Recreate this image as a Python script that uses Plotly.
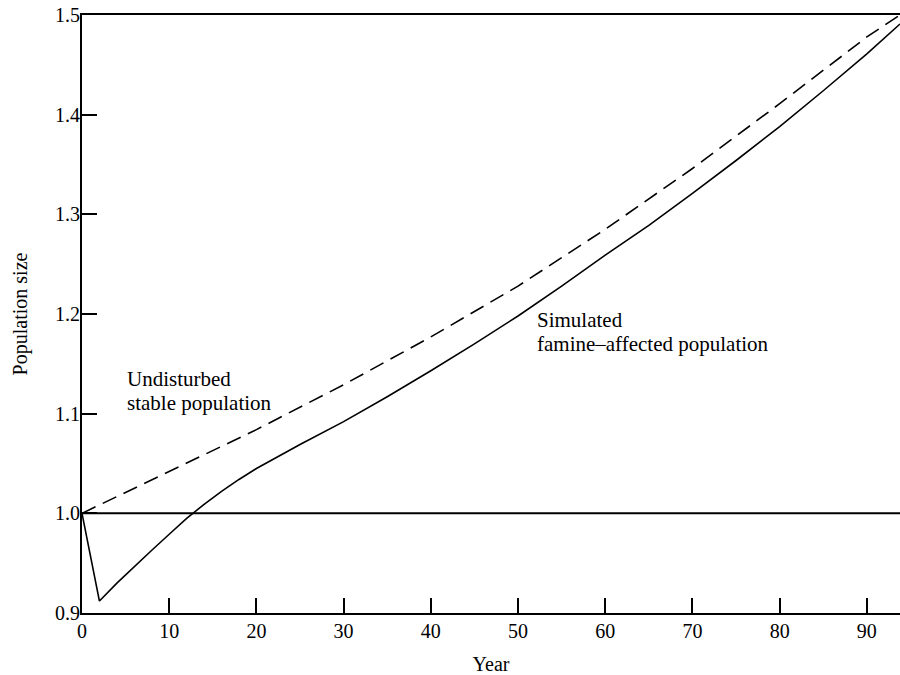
import plotly.graph_objects as go

# Simulated famine-affected population (solid)
famine_years = [0, 2, 4, 6, 8, 10, 12, 14, 16, 18, 20, 25, 30, 35, 40, 45, 50,
                55, 60, 65, 70, 75, 80, 85, 90, 93.8]
famine_pop = [1.000, 0.912, 0.930, 0.947, 0.963, 0.979, 0.995, 1.009, 1.022,
              1.034, 1.045, 1.069, 1.092, 1.117, 1.143, 1.170, 1.198, 1.228,
              1.259, 1.289, 1.321, 1.354, 1.388, 1.424, 1.461, 1.491]

# Undisturbed stable population (dashed)
stable_years = [0, 10, 20, 30, 40, 50, 60, 70, 80, 90, 93.8]
stable_pop = [1.000, 1.042, 1.084, 1.129, 1.177, 1.228, 1.285, 1.346, 1.411,
              1.478, 1.500]

baseline = 1.0
x_ticks = [0, 10, 20, 30, 40, 50, 60, 70, 80, 90]
y_ticks = [0.9, 1.0, 1.1, 1.2, 1.3, 1.4, 1.5]
y_tick_text = ["0.9", "1.0", "1.1", "1.2", "1.3", "1.4", "1.5"]

FONT = "Liberation Serif, Times New Roman, serif"

fig = go.Figure()
fig.add_trace(go.Scatter(x=stable_years, y=stable_pop, mode="lines",
                         line=dict(color="black", width=1.6, dash="15px,8px"),
                         name="Undisturbed stable population", showlegend=False))
fig.add_trace(go.Scatter(x=famine_years, y=famine_pop, mode="lines",
                         line=dict(color="black", width=1.6),
                         name="Simulated famine-affected population", showlegend=False))
fig.add_hline(y=baseline, line=dict(color="black", width=2))

ann_font = dict(family=FONT, size=21, color="black")
fig.add_annotation(x=4.9, y=1.1350, text="Undisturbed", showarrow=False,
                   xanchor="left", yanchor="middle", font=ann_font)
fig.add_annotation(x=4.9, y=1.1108, text="stable population", showarrow=False,
                   xanchor="left", yanchor="middle", font=ann_font)
fig.add_annotation(x=52.0, y=1.1940, text="Simulated", showarrow=False,
                   xanchor="left", yanchor="middle", font=ann_font)
fig.add_annotation(x=52.0, y=1.1695, text="famine\u2013affected population", showarrow=False,
                   xanchor="left", yanchor="middle", font=ann_font)

fig.update_layout(
    width=900, height=675,
    margin=dict(l=82, r=0, t=15, b=62),
    paper_bgcolor="white", plot_bgcolor="white",
    font=dict(family=FONT, size=20, color="black"),
    showlegend=False,
    xaxis=dict(range=[0, 93.8], tickvals=x_ticks, ticks="inside", ticklen=15,
               tickwidth=2, tickcolor="black", showline=True, linecolor="black",
               linewidth=2, mirror=True, showgrid=False, zeroline=False,
               tickfont=dict(size=20), ticklabelstandoff=-1,
               title=dict(text="Year", font=dict(size=20), standoff=18)),
    yaxis=dict(range=[0.9, 1.5], tickvals=y_ticks, ticktext=y_tick_text,
               ticks="inside", ticklen=15, tickwidth=2, tickcolor="black",
               showline=True, linecolor="black", linewidth=2, mirror=False,
               showgrid=False, zeroline=False, tickfont=dict(size=20),
               ticklabelstandoff=-4,
               title=dict(text="Population size", font=dict(size=20), standoff=22)),
)

fig.write_html("out.html", config={"displayModeBar": False},
               post_script="document.body.style.margin='0';document.body.style.overflow='hidden';")
